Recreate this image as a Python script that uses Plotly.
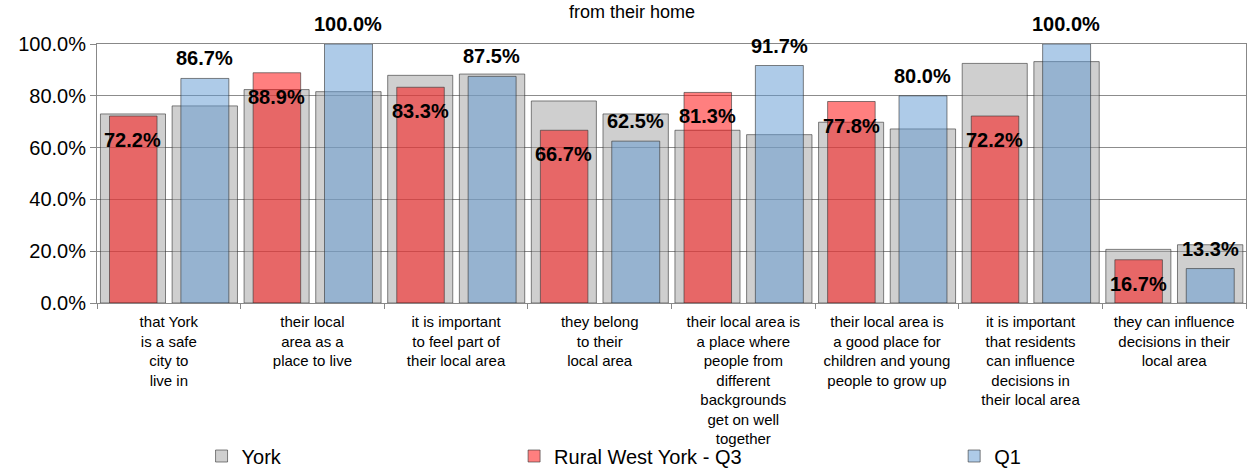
import plotly.graph_objects as go

categories = [
    "that York<br>is a safe<br>city to<br>live in",
    "their local<br>area as a<br>place to live",
    "it is important<br>to feel part of<br>their local area",
    "they belong<br>to their<br>local area",
    "their local area is<br>a place where<br>people from<br>different<br>backgrounds<br>get on well<br>together",
    "their local area is<br>a good place for<br>children and young<br>people to grow up",
    "it is important<br>that residents<br>can influence<br>decisions in<br>their local area",
    "they can influence<br>decisions in their<br>local area",
]
york_vs_q3 = [0.730, 0.824, 0.879, 0.780, 0.667, 0.698, 0.925, 0.207]
york_vs_q1 = [0.761, 0.816, 0.884, 0.730, 0.650, 0.672, 0.932, 0.225]
rural_q3 = [0.722, 0.889, 0.833, 0.667, 0.813, 0.778, 0.722, 0.167]
rural_q1 = [0.867, 1.000, 0.875, 0.625, 0.917, 0.800, 1.000, 0.133]

FONT = "Liberation Sans, Arial, sans-serif"
outline = dict(color="rgba(50,50,50,0.6)", width=1)
grey = "rgba(160,160,160,0.5)"
red = "rgba(255,0,0,0.5)"
blue = "rgba(93,151,209,0.5)"

fig = go.Figure()
fig.add_trace(go.Bar(x=categories, y=york_vs_q3, name="York", offset=-0.476, width=0.453,
                     marker=dict(color=grey, line=outline), legend="legend"))
fig.add_trace(go.Bar(x=categories, y=york_vs_q1, name="York", offset=0.023, width=0.455,
                     marker=dict(color=grey, line=outline), showlegend=False))
fig.add_trace(go.Bar(x=categories, y=rural_q3, name="Rural West York - Q3", offset=-0.413, width=0.331,
                     marker=dict(color=red, line=outline), legend="legend2"))
fig.add_trace(go.Bar(x=categories, y=rural_q1, name="Q1", offset=0.084, width=0.334,
                     marker=dict(color=blue, line=outline), legend="legend3"))

annotations = []
for i, v in enumerate(rural_q3):
    annotations.append(dict(x=i - 0.25, y=v, xref="x", yref="y", text=f"{v*100:.1f}%",
                            showarrow=False, yshift=-24, yanchor="middle",
                            font=dict(family=FONT, size=20, color="black", weight="bold")))
for i, v in enumerate(rural_q1):
    annotations.append(dict(x=i + 0.25, y=v, xref="x", yref="y", text=f"{v*100:.1f}%",
                            showarrow=False, yshift=20, yanchor="middle",
                            font=dict(family=FONT, size=20, color="black", weight="bold")))
annotations.append(dict(x=0.466, y=1.17, xref="paper", yref="paper", text="from their home",
                        showarrow=False, yanchor="top", xanchor="center",
                        font=dict(family=FONT, size=18, color="black")))

leg_common = dict(orientation="h", yref="container", yanchor="middle", y=1 - 456 / 468,
                  xanchor="left", font=dict(family=FONT, size=20, color="black"),
                  bgcolor="rgba(0,0,0,0)", borderwidth=0)

fig.update_layout(
    width=1251, height=468,
    margin=dict(l=97, r=5, t=44, b=165, autoexpand=False),
    barmode="overlay",
    plot_bgcolor="white", paper_bgcolor="white",
    font=dict(family=FONT, color="black"),
    annotations=annotations,
    legend=dict(x=0.091, **leg_common),
    legend2=dict(x=0.363, **leg_common),
    legend3=dict(x=0.746, **leg_common),
    xaxis=dict(type="category", range=[-0.5, 7.5], tickson="boundaries", ticks="outside",
               ticklen=5, tickcolor="#888", showline=True, linecolor="#888", mirror=True,
               showgrid=False, tickfont=dict(family=FONT, size=15, color="black"), tickangle=0,
               ticklabelstandoff=5),
    yaxis=dict(range=[0, 1], dtick=0.2, tickformat=".1%", showgrid=True, gridcolor="#8c8c8c",
               ticks="outside", ticklen=6, tickcolor="#888", showline=True, linecolor="#888",
               mirror=True, zeroline=False, tickfont=dict(family=FONT, size=20, color="black")),
)

fig.write_html("out.html", config={"displayModeBar": False},
               post_script="document.body.style.margin='0';document.body.style.overflow='hidden';")
